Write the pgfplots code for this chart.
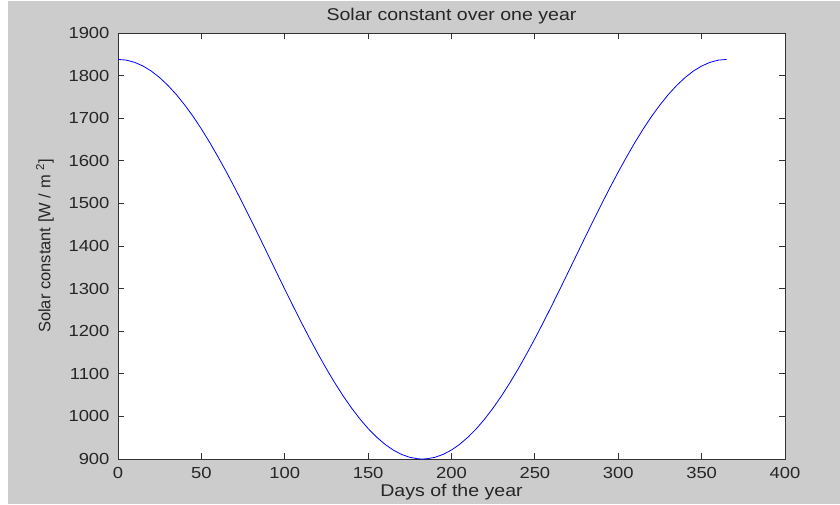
\documentclass[border=0pt]{standalone}
\usepackage{pgfplots}
\pgfplotsset{compat=1.18}
\usepackage{fontspec}
\setmainfont{Liberation Sans}[FakeStretch=1.15]
\newfontfamily\ylabfont{Liberation Sans}
\begin{document}
\begin{tikzpicture}[x=1pt,y=1pt]
\fill[white] (0,0) rectangle (840,504);
\fill[black!20] (8,0) rectangle (840,502.5);
\begin{axis}[
  at={(118pt,45pt)}, anchor=south west,
  scale only axis, width=667pt, height=426pt,
  xmin=0, xmax=400, ymin=900, ymax=1900,
  xtick={0,50,...,400}, ytick={900,1000,...,1900},
  tick align=inside, major tick length=6pt,
  tick style={draw=black!80, line width=0.8pt},
  axis line style={draw=black!80, line width=0.9pt},
  axis background/.style={fill=white},
  font=\fontsize{17}{20}\selectfont,
  /pgf/number format/assume math mode=true,
  /pgf/number format/1000 sep={},
  ticklabel style={font=\fontsize{16}{19}\selectfont, text=black!85},
  xticklabel style={yshift=-5pt},
  yticklabel style={xshift=-5pt},
  every axis title shift=0pt,
  title={Solar constant over one year},
  title style={at={(0.5,1)}, anchor=base, yshift=12pt, text=black!85},
  xlabel={Days of the year},
  xlabel style={at={(axis description cs:0.5,-0.0775)}, anchor=center, text=black!85},
  ylabel={Solar constant [W / m \textsuperscript{2}]},
  ylabel style={at={(axis description cs:-0.1095,0.5)}, anchor=center, text=black!85, font=\ylabfont\fontsize{16.5}{19}\selectfont},
]
\addplot[blue, line width=0.8pt, no marks] coordinates {
(0,1838.0)(5,1836.3)(10,1831.1)(15,1822.5)(20,1810.5)(25,1795.2)(30,1776.8)(35,1755.4)
(40,1731.1)(45,1704.3)(50,1674.8)(55,1643.1)(60,1609.1)(65,1573.8)(70,1536.8)(75,1498.5)
(80,1459.3)(85,1419.4)(90,1379.1)(95,1338.7)(100,1298.6)(105,1259.0)(110,1220.2)(115,1182.5)
(120,1146.3)(125,1111.6)(130,1078.8)(135,1048.2)(140,1020.0)(145,994.4)(150,971.5)(155,951.6)
(160,934.8)(165,921.1)(170,910.8)(175,903.9)(180,900.4)(182.5,900.0)(185,900.4)(190,903.9)
(195,910.8)(200,921.1)(205,934.8)(210,951.6)(215,971.5)(220,994.4)(225,1020.0)(230,1048.2)
(235,1078.8)(240,1111.6)(245,1146.3)(250,1182.5)(255,1220.2)(260,1259.0)(265,1298.6)(270,1338.7)
(275,1379.1)(280,1419.4)(285,1459.3)(290,1498.5)(295,1536.8)(300,1573.8)(305,1609.1)(310,1643.1)
(315,1674.8)(320,1704.3)(325,1731.1)(330,1755.4)(335,1776.8)(340,1795.2)(345,1810.5)(350,1822.5)
(355,1831.1)(360,1836.3)(365,1838.0)
};
\end{axis}
\end{tikzpicture}
\end{document}
